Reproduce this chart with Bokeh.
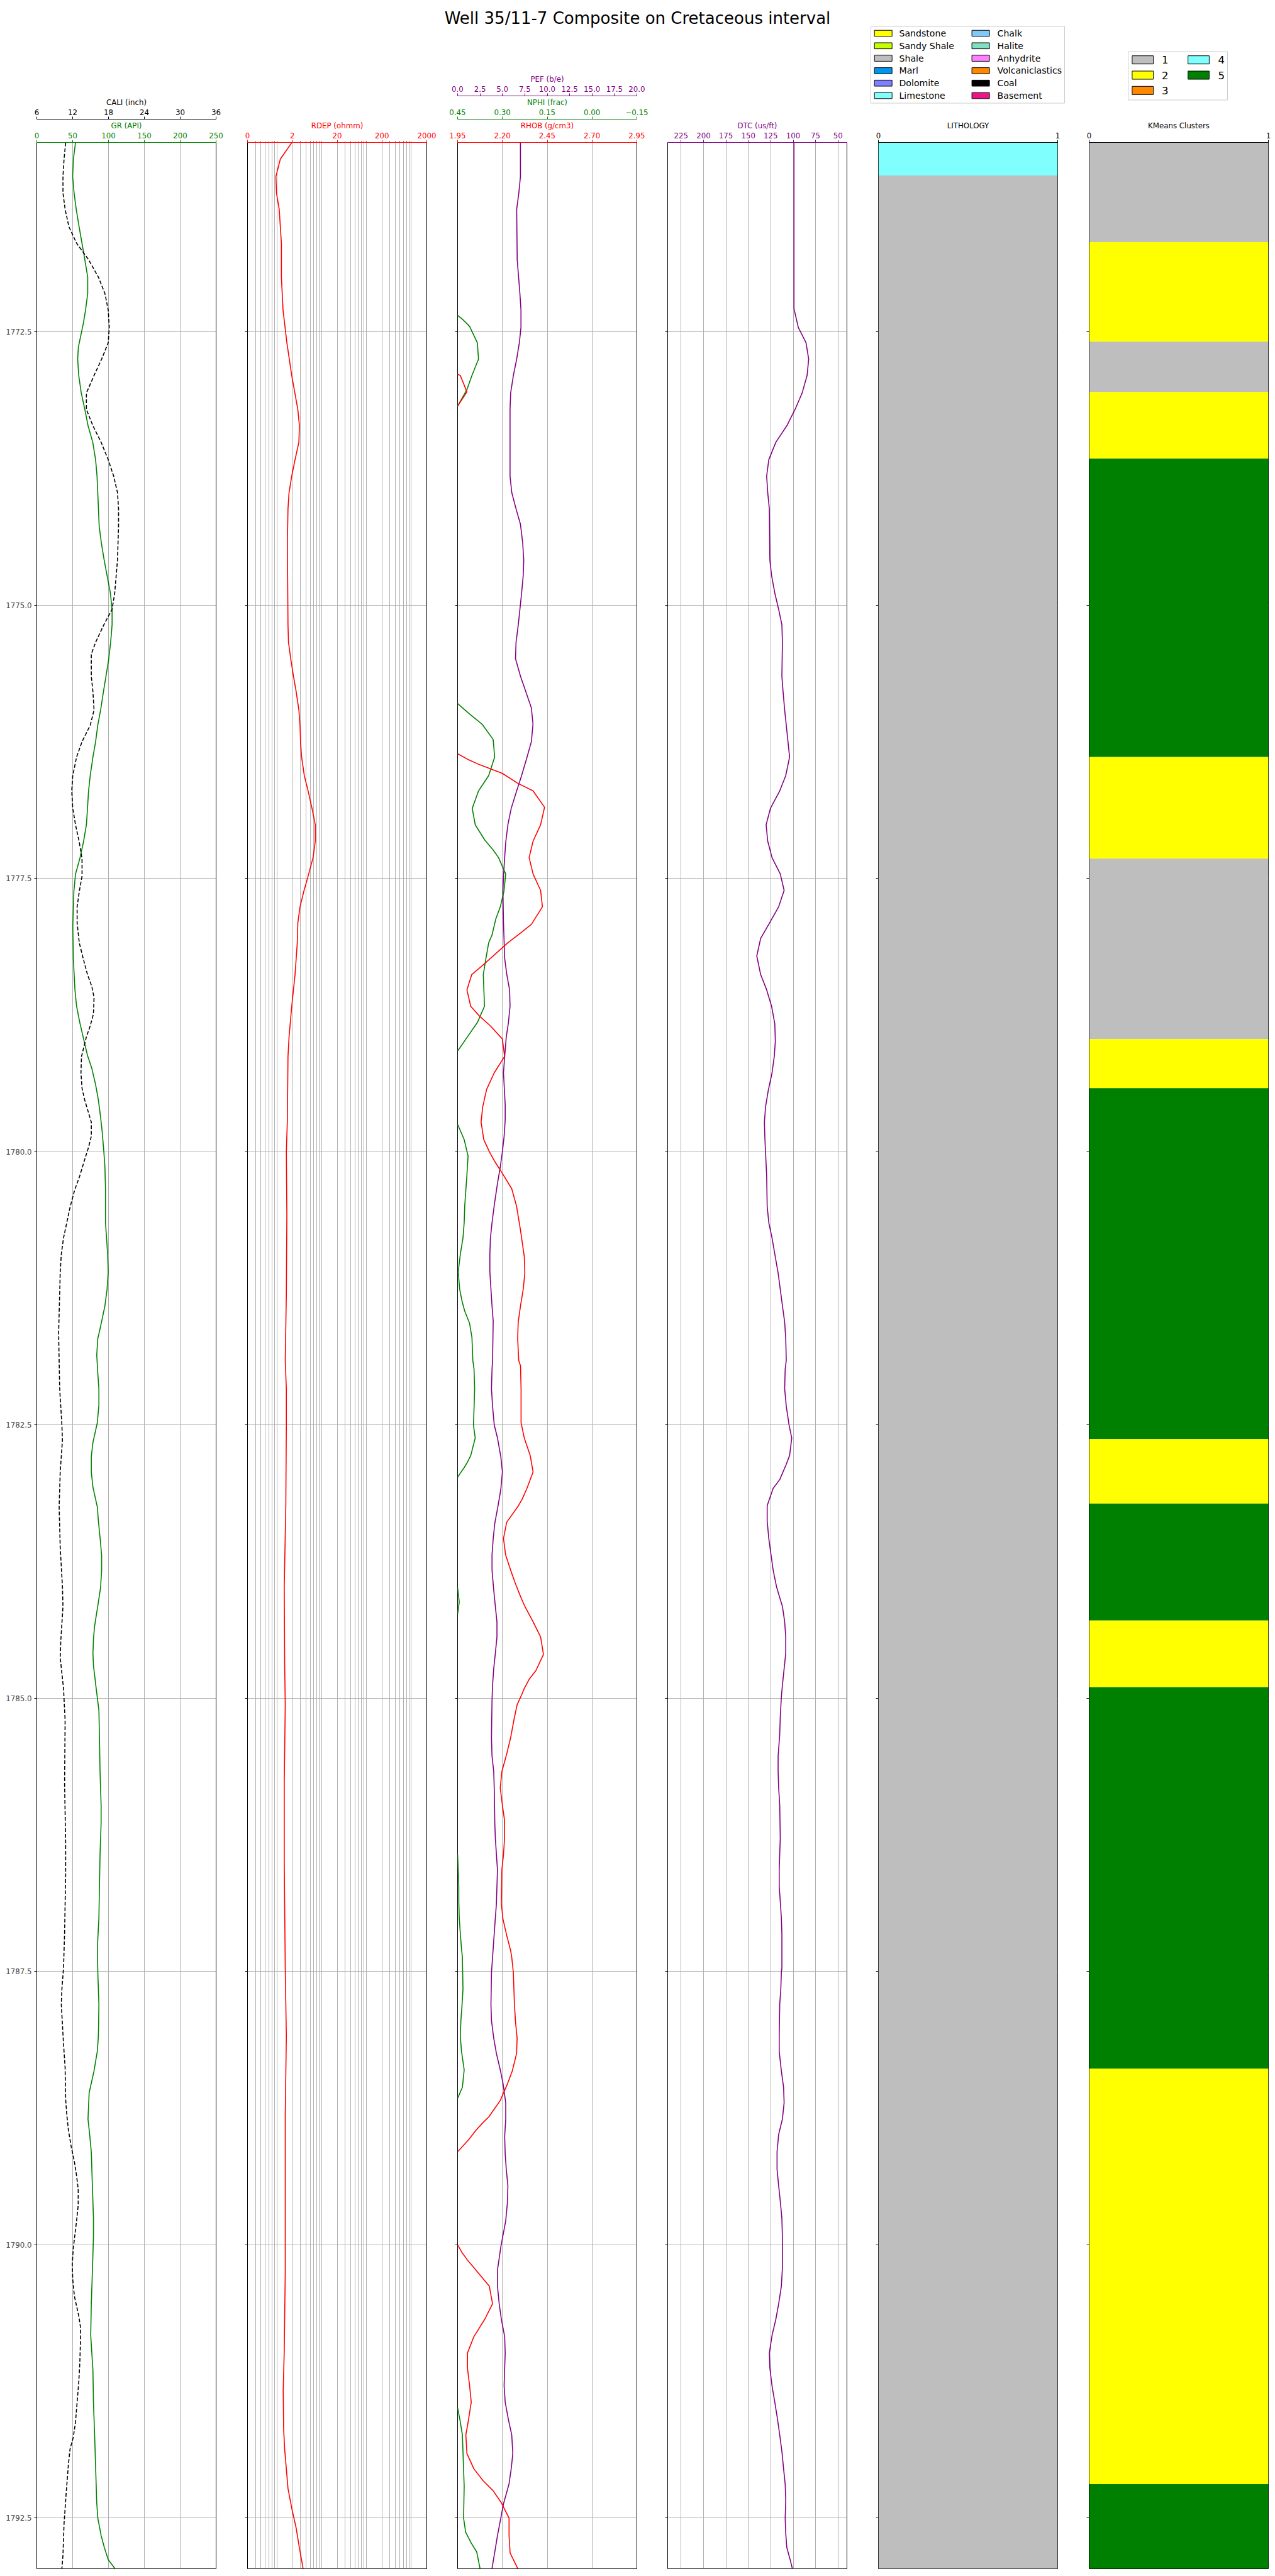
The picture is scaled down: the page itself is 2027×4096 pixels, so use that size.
import numpy as np
from bokeh.plotting import figure
from bokeh.models import Range1d, LinearAxis, LogAxis, FixedTicker, Grid, Label
from bokeh.layouts import row, column
from bokeh.embed import file_html
from bokeh.resources import INLINE
from bokeh.core.properties import value

TITLE = "Well 35/11-7 Composite on Cretaceous interval"
DEPTH_TOP, DEPTH_BASE = 1770.768, 1792.964
DEPTH_TICKS = [1772.5, 1775.0, 1777.5, 1780.0, 1782.5, 1785.0, 1787.5, 1790.0, 1792.5]

GR_TICKS = [0, 50, 100, 150, 200, 250]
CALI_TICKS = [6, 12, 18, 24, 30, 36]
RDEP_TICKS = [0.2, 2, 20, 200, 2000]
RDEP_TICK_LABELS = ["0", "2", "20", "200", "2000"]
RDEP_MINOR = [0.3, 0.4, 0.5, 0.6, 0.7, 0.8, 0.9, 3, 4, 5, 6, 7, 8, 9,
              30, 40, 50, 60, 70, 80, 90, 300, 400, 500, 600, 700, 800, 900]
RHOB_TICKS = [1.95, 2.20, 2.45, 2.70, 2.95]
NPHI_TICKS = [0.45, 0.30, 0.15, 0.0, -0.15]
NPHI_TICK_LABELS = ["0.45", "0.30", "0.15", "0.00", "\u22120.15"]
PEF_TICKS = [0.0, 2.5, 5.0, 7.5, 10.0, 12.5, 15.0, 17.5, 20.0]
DTC_TICKS = [225, 200, 175, 150, 125, 100, 75, 50]

# (depth, value) pairs
GR_CURVE = [
    (1770.77, 54), (1770.92, 51), (1771.08, 50), (1771.23, 52), (1771.38, 55), (1771.54, 59),
    (1771.69, 63), (1771.84, 67), (1772.00, 71), (1772.15, 71), (1772.30, 68), (1772.42, 65),
    (1772.64, 58), (1772.75, 57), (1772.90, 58.5), (1773.06, 62), (1773.21, 67), (1773.36, 71.5),
    (1773.51, 78), (1773.67, 82), (1773.82, 84), (1774.12, 86), (1774.28, 87), (1774.43, 90),
    (1774.59, 94), (1774.73, 98), (1774.89, 102.6), (1775.04, 105), (1775.18, 105), (1775.34, 103),
    (1775.51, 100), (1775.65, 96.5), (1775.79, 93), (1775.96, 89), (1776.10, 85), (1776.25, 82),
    (1776.39, 78.3), (1776.56, 74.5), (1776.70, 72.2), (1776.86, 70.7), (1777.01, 69.2), (1777.17, 65),
    (1777.32, 60), (1777.46, 54), (1777.62, 51.7), (1777.93, 50.2), (1778.23, 50.9), (1778.52, 53.2),
    (1778.67, 55.5), (1778.82, 60), (1778.95, 64.6), (1779.12, 70.7), (1779.24, 76.8), (1779.39, 82.1),
    (1779.53, 85.9), (1779.68, 88.9), (1779.82, 91.2), (1780.00, 93.5), (1780.14, 95), (1780.34, 95.8),
    (1780.65, 95.8), (1780.79, 97.3), (1780.94, 98.8), (1781.10, 99.6), (1781.26, 98), (1781.41, 95),
    (1781.53, 91.2), (1781.62, 88.2), (1781.71, 85.1), (1781.86, 83.6), (1782.03, 85.1), (1782.17, 86.6),
    (1782.32, 86.6), (1782.48, 84.4), (1782.66, 78.3), (1782.79, 76), (1782.93, 76), (1783.07, 78.3),
    (1783.25, 84.4), (1783.38, 85.9), (1783.53, 88.2), (1783.69, 90.4), (1783.83, 90.4), (1783.99, 88.9),
    (1784.12, 85.9), (1784.34, 80.6), (1784.46, 79), (1784.59, 78.3), (1784.70, 79), (1784.91, 82.8),
    (1785.11, 86.6), (1785.36, 87.4), (1785.67, 88.2), (1785.98, 89.7), (1786.14, 89.7), (1786.43, 88.2),
    (1786.72, 87.4), (1787.01, 86.6), (1787.29, 84.4), (1787.51, 85.1), (1787.80, 86.6), (1788.09, 85.9),
    (1788.23, 84.4), (1788.41, 79.8), (1788.61, 73), (1788.85, 71.4), (1788.99, 73.7), (1789.15, 76),
    (1789.46, 77.5), (1789.75, 79), (1789.93, 79), (1790.25, 77.5), (1790.54, 76), (1790.83, 75.2),
    (1791.15, 78.3), (1791.44, 79), (1791.73, 80.6), (1792.05, 82.1), (1792.36, 83.6), (1792.50, 85.1),
    (1792.66, 89.7), (1792.77, 94.2), (1792.88, 99.6), (1792.96, 108.7),
]

CALI_CURVE = [
    (1770.77, 10.83), (1770.92, 10.56), (1771.08, 10.38), (1771.23, 10.38), (1771.38, 10.74),
    (1771.54, 11.38), (1771.69, 12.66), (1771.84, 14.66), (1772.00, 16.31), (1772.15, 17.40),
    (1772.30, 17.95), (1772.46, 18.13), (1772.60, 17.95), (1772.75, 16.85), (1772.90, 15.58),
    (1773.06, 14.30), (1773.21, 14.30), (1773.36, 15.39), (1773.51, 16.76), (1773.67, 17.95),
    (1773.82, 18.86), (1773.97, 19.50), (1774.12, 19.68), (1774.28, 19.68), (1774.59, 19.50),
    (1774.89, 19.04), (1775.04, 18.59), (1775.18, 17.22), (1775.34, 15.85), (1775.45, 15.12),
    (1775.65, 15.12), (1775.79, 15.39), (1775.96, 15.58), (1776.10, 14.94), (1776.25, 13.57),
    (1776.39, 12.66), (1776.56, 12.02), (1776.70, 11.84), (1776.86, 12.02), (1777.01, 12.48),
    (1777.17, 13.11), (1777.32, 13.57), (1777.48, 13.57), (1777.62, 13.11), (1777.76, 12.75),
    (1777.91, 12.75), (1778.09, 13.11), (1778.23, 13.75), (1778.38, 14.48), (1778.49, 15.21),
    (1778.59, 15.58), (1778.74, 15.48), (1778.85, 14.94), (1778.95, 14.30), (1779.13, 13.48),
    (1779.28, 13.39), (1779.42, 13.57), (1779.53, 14.03), (1779.73, 15.12), (1779.86, 15.12),
    (1779.96, 14.66), (1780.07, 14.03), (1780.22, 13.20), (1780.36, 12.29), (1780.51, 11.56),
    (1780.65, 11.02), (1780.79, 10.47), (1780.94, 10.10), (1781.10, 9.92), (1781.30, 9.83),
    (1781.66, 9.65), (1782.17, 9.83), (1782.50, 10.20), (1782.64, 10.29), (1782.93, 9.92),
    (1783.25, 9.74), (1783.62, 9.92), (1783.98, 10.29), (1784.16, 10.38), (1784.48, 10.01),
    (1784.63, 9.92), (1784.91, 10.47), (1785.20, 10.74), (1785.78, 10.65), (1786.32, 10.83),
    (1786.61, 10.83), (1787.15, 10.65), (1787.47, 10.47), (1787.66, 10.20), (1787.80, 10.10),
    (1788.16, 10.47), (1788.38, 10.74), (1788.67, 10.83), (1788.81, 11.02), (1788.95, 11.29),
    (1789.10, 11.75), (1789.24, 12.29), (1789.37, 12.66), (1789.49, 12.93), (1789.64, 12.93),
    (1789.78, 12.66), (1790.03, 12.11), (1790.18, 11.93), (1790.32, 12.02), (1790.47, 12.29),
    (1790.65, 13.02), (1790.75, 13.30), (1790.90, 13.30), (1791.08, 13.20), (1791.26, 13.02),
    (1791.44, 12.75), (1791.62, 12.48), (1791.76, 12.11), (1791.87, 11.56), (1792.01, 11.29),
    (1792.27, 10.92), (1792.55, 10.56), (1792.84, 10.38), (1792.96, 10.20),
]

RDEP_CURVE = [
    (1770.77, 1.94), (1770.92, 1.08), (1771.08, 0.86), (1771.23, 0.885), (1771.38, 1.02),
    (1771.69, 1.14), (1772.00, 1.14), (1772.30, 1.24), (1772.60, 1.51), (1772.90, 1.94),
    (1773.21, 2.65), (1773.36, 2.88), (1773.51, 2.80), (1773.67, 2.30), (1773.82, 1.94),
    (1773.97, 1.69), (1774.12, 1.60), (1774.43, 1.55), (1775.18, 1.60), (1775.34, 1.64),
    (1775.49, 1.84), (1775.65, 2.12), (1775.79, 2.43), (1775.96, 2.80), (1776.10, 2.97),
    (1776.25, 3.05), (1776.39, 3.22), (1776.56, 3.70), (1776.70, 4.50), (1776.86, 5.50),
    (1777.01, 6.50), (1777.16, 6.50), (1777.31, 5.80), (1777.48, 4.50), (1777.62, 3.60),
    (1777.76, 2.97), (1777.91, 2.65), (1778.09, 2.58), (1778.38, 2.30), (1778.67, 1.94),
    (1778.95, 1.69), (1779.13, 1.60), (1779.71, 1.55), (1780.00, 1.47), (1780.58, 1.51),
    (1781.30, 1.47), (1781.91, 1.39), (1782.17, 1.47), (1782.50, 1.47), (1783.25, 1.43),
    (1783.98, 1.32), (1784.70, 1.35), (1785.06, 1.39), (1785.78, 1.32), (1786.50, 1.32),
    (1787.47, 1.39), (1788.09, 1.47), (1788.81, 1.39), (1790.25, 1.39), (1790.97, 1.32),
    (1791.33, 1.25), (1791.69, 1.28), (1791.87, 1.35), (1792.05, 1.47), (1792.23, 1.60),
    (1792.41, 1.94), (1792.59, 2.43), (1792.77, 2.87), (1792.96, 3.47),
]

PEF_CURVE = [
    (1770.77, 7.01), (1771.08, 7.01), (1771.23, 6.83), (1771.38, 6.59), (1771.84, 6.65),
    (1772.15, 6.95), (1772.30, 7.07), (1772.46, 7.07), (1772.60, 6.89), (1772.75, 6.59),
    (1772.90, 6.22), (1773.06, 5.92), (1773.21, 5.85), (1773.82, 5.85), (1773.97, 6.04),
    (1774.12, 6.52), (1774.26, 7.01), (1774.43, 7.26), (1774.59, 7.38), (1774.73, 7.32),
    (1774.89, 7.14), (1775.04, 6.95), (1775.18, 6.77), (1775.34, 6.52), (1775.49, 6.46),
    (1775.65, 7.01), (1775.94, 8.23), (1776.09, 8.41), (1776.25, 8.23), (1776.39, 7.75),
    (1776.56, 7.14), (1776.70, 6.59), (1776.86, 5.98), (1777.01, 5.61), (1777.17, 5.37),
    (1777.31, 5.25), (1777.48, 5.12), (1777.62, 5.06), (1777.91, 5.12), (1778.23, 5.25),
    (1778.38, 5.49), (1778.52, 5.80), (1778.67, 5.85), (1778.82, 5.67), (1778.95, 5.43),
    (1779.13, 5.25), (1779.28, 5.12), (1779.57, 5.31), (1779.71, 5.31), (1779.86, 5.19),
    (1780.00, 5.00), (1780.14, 4.76), (1780.29, 4.45), (1780.49, 4.09), (1780.65, 3.84),
    (1780.79, 3.66), (1780.94, 3.60), (1781.10, 3.60), (1781.26, 3.72), (1781.41, 3.84),
    (1781.55, 3.97), (1781.91, 3.90), (1781.99, 3.84), (1782.17, 3.78), (1782.33, 3.90),
    (1782.50, 4.09), (1782.62, 4.45), (1782.79, 4.82), (1782.93, 5.00), (1783.09, 4.82),
    (1783.24, 4.51), (1783.40, 4.15), (1783.54, 3.97), (1783.69, 3.84), (1783.83, 3.84),
    (1784.01, 4.03), (1784.16, 4.21), (1784.30, 4.39), (1784.44, 4.39), (1784.59, 4.21),
    (1784.73, 4.03), (1784.88, 3.90), (1785.02, 3.84), (1785.36, 3.78), (1785.53, 3.84),
    (1785.67, 4.03), (1785.83, 4.09), (1786.14, 4.15), (1786.28, 4.21), (1786.43, 4.33),
    (1786.57, 4.45), (1786.72, 4.39), (1786.88, 4.33), (1787.01, 4.21), (1787.15, 4.09),
    (1787.29, 3.97), (1787.37, 3.90), (1787.51, 3.78), (1787.80, 3.72), (1787.95, 3.78),
    (1788.11, 4.03), (1788.25, 4.33), (1788.40, 4.76), (1788.52, 5.06), (1788.70, 5.37),
    (1788.85, 5.37), (1789.01, 5.25), (1789.17, 5.31), (1789.31, 5.43), (1789.46, 5.61),
    (1789.62, 5.55), (1789.78, 5.37), (1790.02, 4.82), (1790.23, 4.45), (1790.38, 4.45),
    (1790.54, 4.64), (1790.68, 4.88), (1790.84, 5.25), (1790.99, 5.31), (1791.13, 5.25),
    (1791.29, 5.19), (1791.44, 5.31), (1791.60, 5.67), (1791.74, 6.04), (1791.91, 6.16),
    (1792.05, 5.98), (1792.19, 5.73), (1792.37, 5.12), (1792.50, 4.82), (1792.66, 4.45),
    (1792.81, 4.15), (1792.96, 3.84),
]

NPHI_CURVE = [
    (1772.35, 0.45), (1772.39, 0.432), (1772.45, 0.410), (1772.60, 0.384), (1772.75, 0.380),
    (1772.90, 0.402), (1773.03, 0.419), (1773.18, 0.45), (1773.19, None),
    (1775.90, 0.45), (1775.99, 0.413), (1776.09, 0.368), (1776.23, 0.331), (1776.39, 0.326),
    (1776.56, 0.346), (1776.70, 0.380), (1776.86, 0.401), (1777.01, 0.391), (1777.15, 0.359),
    (1777.24, 0.331), (1777.31, 0.313), (1777.46, 0.289), (1777.62, 0.295), (1777.76, 0.307),
    (1777.87, 0.322), (1778.02, 0.335), (1778.09, 0.346), (1778.23, 0.355), (1778.38, 0.364),
    (1778.67, 0.360), (1778.82, 0.384), (1778.95, 0.417), (1779.08, 0.45), (1779.09, None),
    (1779.75, 0.45), (1779.89, 0.428), (1780.04, 0.415), (1780.22, 0.419), (1780.49, 0.426),
    (1780.65, 0.428), (1780.79, 0.432), (1780.94, 0.441), (1781.10, 0.448), (1781.26, 0.443),
    (1781.37, 0.435), (1781.46, 0.426), (1781.57, 0.410), (1781.70, 0.402), (1781.91, 0.399),
    (1781.99, 0.395), (1782.17, 0.393), (1782.35, 0.395), (1782.50, 0.397), (1782.62, 0.391),
    (1782.78, 0.406), (1782.84, 0.417), (1782.89, 0.428), (1782.95, 0.443), (1782.98, 0.45),
    (1782.99, None),
    (1783.99, 0.45), (1784.12, 0.4445), (1784.23, 0.45), (1784.24, None),
    (1786.43, 0.45), (1786.57, 0.448), (1786.72, 0.446), (1786.86, 0.446), (1787.01, 0.4445),
    (1787.15, 0.441), (1787.29, 0.437), (1787.37, 0.434), (1787.66, 0.432), (1787.80, 0.435),
    (1787.95, 0.439), (1788.09, 0.441), (1788.23, 0.437), (1788.40, 0.428), (1788.56, 0.434),
    (1788.66, 0.45), (1788.67, None),
    (1791.49, 0.45), (1791.62, 0.441), (1791.74, 0.434), (1792.05, 0.430), (1792.21, 0.428),
    (1792.50, 0.430), (1792.63, 0.423), (1792.73, 0.404), (1792.81, 0.386), (1792.96, 0.375),
]

RHOB_CURVE = [
    (1772.89, 1.95), (1772.90, 1.965), (1773.05, 2.002), (1773.18, 1.95), (1773.19, None),
    (1776.36, 1.95), (1776.41, 2.005), (1776.46, 2.072), (1776.54, 2.200), (1776.63, 2.285),
    (1776.70, 2.371), (1776.85, 2.435), (1777.01, 2.413), (1777.16, 2.371), (1777.31, 2.349),
    (1777.46, 2.371), (1777.61, 2.413), (1777.76, 2.423), (1777.92, 2.362), (1778.00, 2.301),
    (1778.09, 2.230), (1778.21, 2.148), (1778.30, 2.087), (1778.38, 2.029), (1778.52, 2.002),
    (1778.67, 2.023), (1778.76, 2.072), (1778.85, 2.133), (1778.97, 2.200), (1779.13, 2.212),
    (1779.28, 2.154), (1779.43, 2.112), (1779.59, 2.090), (1779.73, 2.081), (1779.89, 2.096),
    (1780.00, 2.127), (1780.09, 2.157), (1780.20, 2.200), (1780.34, 2.252), (1780.50, 2.279),
    (1780.72, 2.301), (1780.96, 2.322), (1781.11, 2.325), (1781.26, 2.316), (1781.41, 2.301),
    (1781.56, 2.288), (1781.71, 2.285), (1781.91, 2.291), (1781.96, 2.301), (1782.17, 2.304),
    (1782.48, 2.304), (1782.62, 2.322), (1782.78, 2.355), (1782.93, 2.371), (1783.08, 2.337),
    (1783.18, 2.310), (1783.25, 2.285), (1783.39, 2.224), (1783.54, 2.206), (1783.69, 2.218),
    (1783.83, 2.246), (1783.94, 2.270), (1784.07, 2.301), (1784.16, 2.325), (1784.30, 2.371),
    (1784.44, 2.413), (1784.60, 2.429), (1784.75, 2.386), (1784.82, 2.352), (1784.91, 2.322),
    (1784.97, 2.307), (1785.06, 2.282), (1785.20, 2.264), (1785.36, 2.246), (1785.51, 2.224),
    (1785.67, 2.197), (1785.82, 2.188), (1785.98, 2.200), (1786.12, 2.212), (1786.28, 2.212),
    (1786.43, 2.206), (1786.57, 2.197), (1786.88, 2.194), (1787.02, 2.203), (1787.17, 2.224),
    (1787.31, 2.246), (1787.37, 2.252), (1787.51, 2.261), (1787.80, 2.267), (1787.96, 2.273),
    (1788.11, 2.282), (1788.25, 2.279), (1788.41, 2.255), (1788.52, 2.230), (1788.68, 2.188),
    (1788.76, 2.154), (1788.83, 2.124), (1788.88, 2.093), (1788.95, 2.054), (1789.04, 2.011),
    (1789.15, 1.95), (1789.16, None),
    (1790.00, 1.95), (1790.07, 1.974), (1790.14, 2.005), (1790.21, 2.041), (1790.30, 2.087),
    (1790.38, 2.127), (1790.54, 2.145), (1790.68, 2.102), (1790.84, 2.041), (1790.99, 2.005),
    (1791.13, 2.005), (1791.29, 2.017), (1791.44, 2.026), (1791.60, 2.011), (1791.74, 1.996),
    (1791.91, 2.002), (1792.05, 2.041), (1792.16, 2.093), (1792.25, 2.148), (1792.36, 2.194),
    (1792.50, 2.237), (1792.66, 2.237), (1792.82, 2.243), (1792.96, 2.285),
]

DTC_CURVE = [
    (1770.77, 99.1), (1772.29, 99.1), (1772.46, 94.3), (1772.60, 85.7), (1772.75, 82.7),
    (1772.90, 84.5), (1773.06, 90.0), (1773.21, 97.9), (1773.36, 107.1), (1773.51, 119.3),
    (1773.67, 127.2), (1773.82, 129.6), (1773.97, 128.4), (1774.12, 126.6), (1774.59, 126.0),
    (1774.73, 124.1), (1774.89, 120.5), (1775.04, 116.2), (1775.18, 112.6), (1775.34, 112.0),
    (1775.65, 112.6), (1775.79, 111.3), (1775.96, 109.5), (1776.10, 107.7), (1776.25, 105.8),
    (1776.39, 104.0), (1776.56, 108.3), (1776.70, 115.0), (1776.86, 125.4), (1777.01, 130.2),
    (1777.16, 128.4), (1777.31, 123.6), (1777.46, 114.4), (1777.61, 110.1), (1777.76, 116.2),
    (1777.92, 127.2), (1778.05, 136.3), (1778.21, 140.6), (1778.38, 136.3), (1778.52, 129.6),
    (1778.67, 124.1), (1778.83, 120.5), (1778.99, 119.9), (1779.13, 121.1), (1779.28, 123.6),
    (1779.44, 127.8), (1779.59, 130.8), (1779.73, 132.1), (1779.89, 131.5), (1780.22, 129.6),
    (1780.50, 129.0), (1780.65, 127.2), (1780.79, 123.6), (1780.96, 120.0), (1781.11, 116.8),
    (1781.26, 114.4), (1781.41, 112.0), (1781.56, 109.5), (1781.71, 108.3), (1781.91, 107.7),
    (1781.99, 108.9), (1782.17, 109.5), (1782.33, 107.7), (1782.50, 104.6), (1782.62, 101.6),
    (1782.78, 104.0), (1782.86, 107.7), (1783.00, 115.0), (1783.08, 122.3), (1783.18, 126.6),
    (1783.24, 129.0), (1783.38, 129.0), (1783.54, 127.2), (1783.69, 124.7), (1783.83, 122.3),
    (1783.98, 118.6), (1784.08, 115.0), (1784.16, 112.0), (1784.30, 109.5), (1784.44, 108.3),
    (1784.59, 108.3), (1784.73, 110.1), (1784.88, 112.0), (1784.99, 113.2), (1785.17, 114.4),
    (1785.33, 115.0), (1785.53, 116.8), (1785.67, 116.8), (1785.82, 116.2), (1785.98, 115.0),
    (1786.28, 114.4), (1786.57, 115.6), (1786.72, 115.6), (1786.86, 114.4), (1787.01, 113.2),
    (1787.15, 112.6), (1787.47, 112.6), (1787.51, 113.2), (1787.66, 113.8), (1787.80, 115.0),
    (1788.09, 115.6), (1788.23, 115.6), (1788.41, 113.2), (1788.56, 110.7), (1788.70, 110.1),
    (1788.85, 112.0), (1788.99, 116.2), (1789.15, 118.0), (1789.31, 118.0), (1789.46, 116.2),
    (1789.60, 114.4), (1789.76, 112.6), (1789.93, 112.0), (1790.21, 112.0), (1790.38, 113.2),
    (1790.54, 116.2), (1790.68, 119.3), (1790.83, 123.6), (1790.99, 126.6), (1791.13, 126.0),
    (1791.29, 123.6), (1791.44, 120.5), (1791.60, 117.4), (1791.74, 115.0), (1791.89, 112.6),
    (1792.05, 110.7), (1792.19, 108.9), (1792.34, 108.3), (1792.50, 108.9), (1792.64, 108.3),
    (1792.77, 107.1), (1792.88, 103.4), (1792.96, 101.0),
]

LITH_BOUNDS = [1770.768, 1771.07, 1792.964]
LITH_INTERVALS = ["Limestone", "Shale"]

CLUSTER_BOUNDS = [1770.768, 1771.68, 1772.59, 1773.05, 1773.66, 1776.39, 1777.32, 1778.97,
                  1779.42, 1782.63, 1783.22, 1784.29, 1784.90, 1788.39, 1792.19, 1792.964]
CLUSTER_INTERVALS = [1, 2, 1, 2, 5, 2, 1, 2, 5, 2, 5, 2, 5, 2, 5]

LITH_NAMES = ["Sandstone", "Sandy Shale", "Shale", "Marl", "Dolomite", "Limestone",
              "Chalk", "Halite", "Anhydrite", "Volcaniclastics", "Coal", "Basement"]
LITH_COLORS = ["#ffff00", "#c6ff00", "#bebebe", "#0096f0", "#8080ff", "#80ffff",
               "#80c8f8", "#80e0c0", "#ff80ff", "#ff8800", "#000000", "#ef138a"]
CLUSTER_NAMES = [1, 2, 3, 4, 5]
CLUSTER_COLORS = ["#bebebe", "#ffff00", "#ff8800", "#80ffff", "#008000"]

# ---------------------------------------------------------------- styling
FONT = "DejaVu Sans"
FS = "11.8px"
GRID_C = "#b0b0b0"
FW, FH = 285, 3858
GREEN, RED, PURPLE = "#008000", "#ff0000", "#800080"
FRAME_TOP = 226
TITLE_H = 46


def split(curve):
    d = np.array([c[0] for c in curve], dtype=float)
    v = np.array([np.nan if c[1] is None else c[1] for c in curve], dtype=float)
    return d, v


def track(ml, mr, mt, x_range, log=False, depth_labels=False):
    p = figure(frame_width=FW, frame_height=FH, x_range=x_range,
               y_range=Range1d(DEPTH_BASE, DEPTH_TOP),
               x_axis_type="log" if log else "linear",
               x_axis_location=None, y_axis_location="left",
               toolbar_location=None, output_backend="svg",
               min_border_left=ml, min_border_right=mr, min_border_top=mt,
               min_border_bottom=8)
    p.outline_line_color = "black"
    p.outline_line_width = 1
    p.grid.visible = False
    ya = p.yaxis[0]
    ya.ticker = FixedTicker(ticks=DEPTH_TICKS)
    ya.major_tick_out = 4
    ya.major_tick_in = 0
    ya.minor_tick_line_color = None
    ya.axis_line_color = None
    ya.major_label_standoff = 4
    ya.major_label_text_font = FONT
    ya.major_label_text_font_size = FS
    ya.major_label_overrides = {t: (f"{t:.1f}" if depth_labels else "") for t in DEPTH_TICKS}
    p.add_layout(Grid(dimension=1, ticker=FixedTicker(ticks=DEPTH_TICKS),
                      grid_line_color=GRID_C, grid_line_width=1))
    return p


def gap_axis(p):
    ax = LinearAxis(ticker=FixedTicker(ticks=[]), axis_line_color=None,
                    major_tick_line_color=None, minor_tick_line_color=None,
                    major_tick_out=5, major_tick_in=0, minor_tick_out=0, minor_tick_in=0,
                    major_label_standoff=0)
    p.add_layout(ax, "above")


def top_axis(p, color, label, ticks, labels, range_name=None, log=False, minor=None):
    kw = {"x_range_name": range_name} if range_name else {}
    ax = (LogAxis if log else LinearAxis)(**kw)
    ax.ticker = FixedTicker(ticks=ticks, minor_ticks=minor or [])
    ax.major_label_overrides = {t: l for t, l in zip(ticks, labels)}
    ax.axis_label = label
    ax.axis_line_color = color
    ax.major_tick_line_color = color
    ax.minor_tick_line_color = color if minor else None
    ax.major_label_text_color = color
    ax.axis_label_text_color = color
    ax.major_tick_out = 4
    ax.major_tick_in = 0
    ax.minor_tick_out = 2
    ax.minor_tick_in = 0
    ax.major_label_standoff = 3
    ax.axis_label_standoff = 1
    ax.major_label_text_font = FONT
    ax.major_label_text_font_size = FS
    ax.axis_label_text_font = FONT
    ax.axis_label_text_font_size = FS
    ax.axis_label_text_font_style = "normal"
    p.add_layout(ax, "above")
    return ax


def vgrid(p, ticks, minor=None):
    p.add_layout(Grid(dimension=0, ticker=FixedTicker(ticks=ticks, minor_ticks=minor or []),
                      grid_line_color=GRID_C, grid_line_width=1,
                      minor_grid_line_color=GRID_C if minor else None,
                      minor_grid_line_width=1))


MT = FRAME_TOP - TITLE_H
LW = 1.6

# Track 1: GR + CALI
p1 = track(58, 25, MT, Range1d(0, 250), depth_labels=True)
p1.extra_x_ranges = {"cali": Range1d(6, 36)}
vgrid(p1, GR_TICKS[1:-1])
gap_axis(p1)
top_axis(p1, GREEN, "GR (API)", GR_TICKS, [str(t) for t in GR_TICKS])
top_axis(p1, "black", "CALI (inch)", CALI_TICKS, [str(t) for t in CALI_TICKS], range_name="cali")
d, v = split(GR_CURVE)
p1.line(v, d, color=GREEN, line_width=LW)
d, v = split(CALI_CURVE)
p1.line(v, d, color="black", line_width=LW, line_dash="6 3", x_range_name="cali")

# Track 2: RDEP (log)
p2 = track(25, 24, MT, Range1d(0.2, 2000), log=True)
vgrid(p2, RDEP_TICKS[1:-1], RDEP_MINOR)
gap_axis(p2)
top_axis(p2, RED, "RDEP (ohmm)", RDEP_TICKS, RDEP_TICK_LABELS, log=True, minor=RDEP_MINOR)
d, v = split(RDEP_CURVE)
p2.line(v, d, color=RED, line_width=LW)

# Track 3: RHOB / NPHI / PEF
p3 = track(25, 24, MT, Range1d(1.95, 2.95))
p3.extra_x_ranges = {"nphi": Range1d(0.45, -0.15), "pef": Range1d(0, 20)}
vgrid(p3, RHOB_TICKS[1:-1])
gap_axis(p3)
top_axis(p3, RED, "RHOB (g/cm3)", RHOB_TICKS, [f"{t:.2f}" for t in RHOB_TICKS])
top_axis(p3, GREEN, "NPHI (frac)", NPHI_TICKS, NPHI_TICK_LABELS, range_name="nphi")
top_axis(p3, PURPLE, "PEF (b/e)", PEF_TICKS, [f"{t:.1f}" for t in PEF_TICKS], range_name="pef")
d, v = split(PEF_CURVE)
p3.line(v, d, color=PURPLE, line_width=LW, x_range_name="pef")
d, v = split(NPHI_CURVE)
p3.line(v, d, color=GREEN, line_width=LW, x_range_name="nphi")
d, v = split(RHOB_CURVE)
p3.line(v, d, color=RED, line_width=LW)

# Track 4: DTC
p4 = track(25, 25, MT, Range1d(240, 40))
vgrid(p4, DTC_TICKS)
gap_axis(p4)
top_axis(p4, PURPLE, "DTC (us/ft)", DTC_TICKS, [str(t) for t in DTC_TICKS])
d, v = split(DTC_CURVE)
p4.line(v, d, color=PURPLE, line_width=LW)

# Track 5: lithology
LEG_H = 170
MT2 = FRAME_TOP - LEG_H
p5 = track(25, 25, MT2, Range1d(0, 1))
top_axis(p5, "black", "LITHOLOGY", [0, 1], ["0", "1"])
lith_col = dict(zip(LITH_NAMES, LITH_COLORS))
p5.quad(left=0, right=1, top=LITH_BOUNDS[:-1], bottom=LITH_BOUNDS[1:],
        fill_color=[lith_col[n] for n in LITH_INTERVALS], line_color=None)

# Track 6: clusters
p6 = track(25, 11, MT2, Range1d(0, 1))
top_axis(p6, "black", "KMeans Clusters", [0, 1], ["0", "1"])
cl_col = dict(zip(CLUSTER_NAMES, CLUSTER_COLORS))
p6.quad(left=0, right=1, top=CLUSTER_BOUNDS[:-1], bottom=CLUSTER_BOUNDS[1:],
        fill_color=[cl_col[c] for c in CLUSTER_INTERVALS], line_color=None)

# Title strip over tracks 1-4 (title centred on the whole page)
LEFT_W = 1371
tf = figure(width=LEFT_W, height=TITLE_H, x_range=Range1d(0, LEFT_W), y_range=Range1d(TITLE_H, 0),
            x_axis_location=None, y_axis_location=None, toolbar_location=None,
            output_backend="svg", min_border=0, outline_line_color=None)
tf.grid.visible = False
tf.add_layout(Label(x=1013, y=28, text=TITLE, text_font=FONT, text_font_size="26px",
                    text_align="center", text_baseline="alphabetic", text_color="black"))

# Legend strip above tracks 5-6
LEG_W = 656
lf = figure(width=LEG_W, height=LEG_H, x_range=Range1d(0, LEG_W), y_range=Range1d(LEG_H, 0),
            x_axis_location=None, y_axis_location=None, toolbar_location=None,
            output_backend="svg", min_border=0, outline_line_color=None)
lf.grid.visible = False

# lithology legend
lf.quad(left=[13], right=[321], top=[41.5], bottom=[163.5], fill_color="white",
        fill_alpha=0.8, line_color="#cccccc", line_width=1)
lx0 = [18.7, 173.6]
tx0 = [58.0, 214.1]
ly = [52.5 + 19.8 * (i % 6) for i in range(len(LITH_NAMES))]
lxc = [lx0[i // 6] for i in range(len(LITH_NAMES))]
ltx = [tx0[i // 6] for i in range(len(LITH_NAMES))]
lf.quad(left=lxc, right=[x + 28 for x in lxc], top=[y - 4.8 for y in ly],
        bottom=[y + 4.8 for y in ly], fill_color=LITH_COLORS, line_color="black", line_width=1)
lf.text(x=ltx, y=ly, text=LITH_NAMES, text_font=value(FONT), text_font_size="14.1px",
        text_baseline="middle", text_align="left", text_color="black")

# cluster legend
lf.quad(left=[422], right=[580], top=[81.5], bottom=[158.5], fill_color="white",
        fill_alpha=0.8, line_color="#cccccc", line_width=1)
cx0 = [428.4, 517.2]
ctx0 = [475.4, 565.0]
cy = [94.7 + 24.3 * (i % 3) for i in range(len(CLUSTER_NAMES))]
cxc = [cx0[i // 3] for i in range(len(CLUSTER_NAMES))]
ctx = [ctx0[i // 3] for i in range(len(CLUSTER_NAMES))]
lf.quad(left=cxc, right=[x + 33.7 for x in cxc], top=[y - 6.5 for y in cy],
        bottom=[y + 6.5 for y in cy], fill_color=CLUSTER_COLORS, line_color="black", line_width=1)
lf.text(x=ctx, y=cy, text=[str(c) for c in CLUSTER_NAMES], text_font=value(FONT),
        text_font_size="16.5px", text_baseline="middle", text_align="left", text_color="black")

layout = row(column(tf, row(p1, p2, p3, p4)), column(lf, row(p5, p6)))
open("out.html", "w").write(file_html(layout, INLINE))
